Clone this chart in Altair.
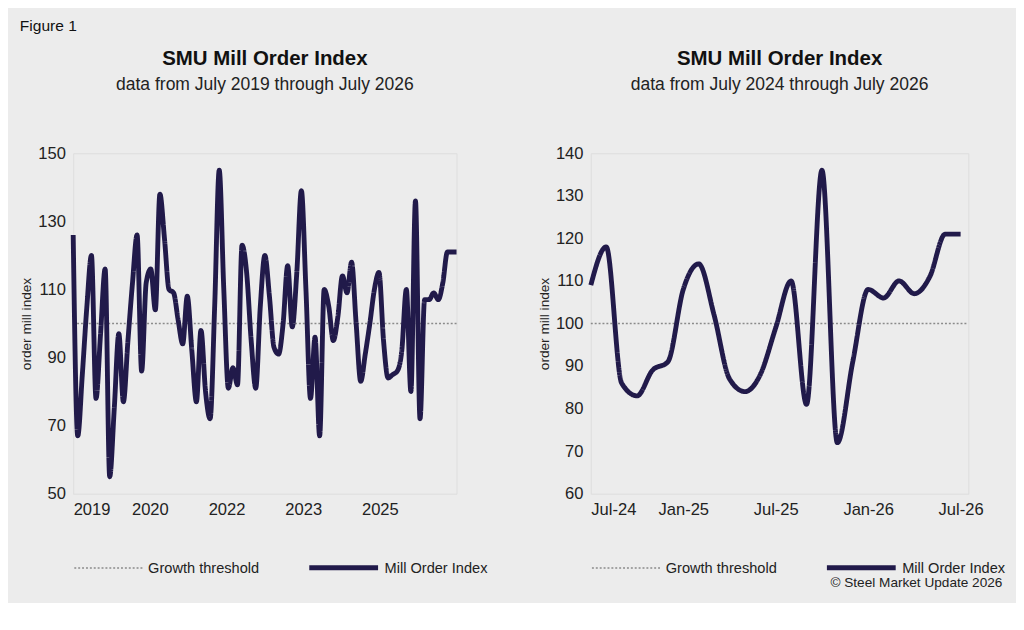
import altair as alt
import pandas as pd

# left panel: monthly index Jul-2019 .. Jul-2026 (month 0..84)
long_months = list(range(85))
long_values = [126, 67, 85, 105, 120, 78, 97, 116, 55, 75, 97, 77, 95, 112, 126, 86, 112,
               116, 104, 138, 125, 110, 109, 101, 94, 108, 92, 77, 98, 80, 72, 105, 145,
               110, 81, 87, 82, 123, 115, 95, 81, 105, 120, 108, 93, 91, 100, 117, 99, 115,
               139, 110, 78, 96, 67, 110, 105, 95, 102, 114, 109, 118, 100, 83, 91, 100,
               110, 115, 95, 84, 85, 86, 92, 110, 80, 136, 72, 107, 107, 109, 107, 112,
               121, 121, 121]
long_ticks = [0, 16.8, 33.6, 50.4, 67.2]
long_labels = ["2019", "2020", "2022", "2023", "2025"]

# right panel: Jul-24 .. Jul-26 (month 0..24)
short_months = list(range(25))
short_values = [109, 118, 86, 83, 89, 91, 108, 114, 102, 87, 84, 88, 99, 110, 81, 136, 72,
                91, 108, 106, 110, 107, 111, 121, 121]
short_ticks = [0, 6, 12, 18, 24]
short_labels = ["Jul-24", "Jan-25", "Jul-25", "Jan-26", "Jul-26"]

THRESH = "Growth threshold"
MOI = "Mill Order Index"
NAVY = "#211a4a"
FONT = "Liberation Sans"
H = 350


def make_df(months, values, xmax):
    rows = [{"m": 0, "v": 100, "s": THRESH}, {"m": xmax, "v": 100, "s": THRESH}]
    rows += [{"m": m, "v": v, "s": MOI} for m, v in zip(months, values)]
    return pd.DataFrame(rows)


def panel(df, xmax, ticks, labels, ydom, ystep, width, sub, copyright=False):
    expr = " : ".join(f"datum.value == {t} ? '{l}'" for t, l in zip(ticks, labels)) + " : ''"
    line = alt.Chart(df).mark_line(interpolate="monotone").encode(
        x=alt.X("m:Q", scale=alt.Scale(domain=[0, xmax], nice=False),
                axis=alt.Axis(values=ticks, labelExpr=expr, title=None, grid=False,
                              domain=False, ticks=False, labelFontSize=17, labelPadding=8,
                              labelColor="#222", labelBound=False, labelOverlap=False)),
        y=alt.Y("v:Q", scale=alt.Scale(domain=ydom, nice=False),
                axis=alt.Axis(values=list(range(ydom[0], ydom[1] + 1, ystep)),
                              title="order mill index", titleFontSize=14,
                              titleFontWeight="normal", titleColor="#222", grid=False,
                              domain=False, ticks=False, labelFontSize=17, labelPadding=8,
                              labelColor="#222")),
        color=alt.Color("s:N", scale=alt.Scale(domain=[THRESH, MOI], range=["#8a8a8a", NAVY]),
                        legend=alt.Legend(title=None, orient="bottom", direction="horizontal",
                                          symbolType="stroke", symbolSize=5000,
                                          labelFontSize=15, labelColor="#222",
                                          columnPadding=40, offset=14)),
        strokeDash=alt.StrokeDash("s:N", scale=alt.Scale(domain=[THRESH, MOI],
                                                         range=[[2, 2], [1, 0]])),
        strokeWidth=alt.StrokeWidth("s:N", scale=alt.Scale(domain=[THRESH, MOI], range=[1.5, 5])),
    )
    layers = [line]
    if copyright:
        layers.append(alt.Chart(pd.DataFrame({"t": ["© Steel Market Update 2026"]})).mark_text(
            align="right", fontSize=14, color="#222", font=FONT
        ).encode(text="t:N", x=alt.value(width + 35), y=alt.value(H + 92)))
    return alt.layer(*layers).properties(
        width=width, height=H,
        title=alt.TitleParams("SMU Mill Order Index", subtitle=sub, fontSize=21,
                              subtitleFontSize=18, subtitleColor="#222", color="#111",
                              anchor="middle", offset=52, subtitlePadding=8),
    )


left = panel(make_df(long_months, long_values, 84), 84, long_ticks, long_labels,
             [50, 150], 20, 394, "data from July 2019 through July 2026")
right = panel(make_df(short_months, short_values, 24.5), 24.5, short_ticks, short_labels,
              [60, 140], 10, 388, "data from July 2024 through July 2026", copyright=True)

chart = alt.hconcat(left, right, spacing=50).resolve_legend(
    color="independent", strokeDash="independent", strokeWidth="independent"
).properties(
    title=alt.TitleParams("Figure 1", anchor="start", fontSize=16, fontWeight="normal",
                          color="#111", offset=14),
    background="#ececec", padding={"left": 12, "top": 2, "right": 10, "bottom": 4},
).configure_view(stroke=None, fill="#efefef").configure(font=FONT)

chart.save("out.html", embed_options={"renderer": "svg", "actions": False})
